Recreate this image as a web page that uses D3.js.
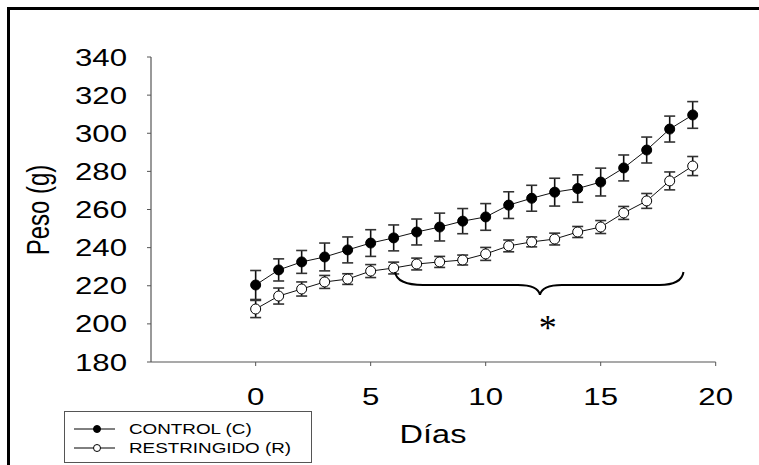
<!DOCTYPE html>
<html><head><meta charset="utf-8">
<script src="https://cdn.jsdelivr.net/npm/d3@7"></script>
<style>html,body{margin:0;padding:0;background:#fff;}svg{display:block;}</style>
</head><body>
<script>
const days = [0,1,2,3,4,5,6,7,8,9,10,11,12,13,14,15,16,17,18,19];
const controlMean = [220.4,228.3,232.5,235.1,238.8,242.4,245.1,248.2,250.8,253.9,256.1,262.3,265.9,269.1,271.0,274.4,281.8,291.2,302.2,309.6];
const controlSE   = [7.6,5.8,6.0,7.3,6.8,7.0,6.8,6.8,7.3,6.6,7.0,7.0,6.8,7.3,7.2,7.3,6.8,6.8,6.8,7.0];
const restrMean   = [207.8,214.6,218.3,222.0,223.5,227.7,229.3,231.4,232.5,233.5,236.7,240.9,243.0,244.5,248.2,250.8,258.2,264.5,275.0,282.8];
const restrSE     = [4.5,4.2,3.7,3.4,2.8,3.4,3.1,3.1,2.9,2.6,3.4,3.1,2.6,3.1,2.9,3.4,3.4,3.9,4.7,5.0];
const xTicks = [0,5,10,15,20];
const yTicks = [180,200,220,240,260,280,300,320,340];
const seriesNames = ["CONTROL (C)","RESTRINGIDO (R)"];
const braceDays = [6.06, 12.36, 18.6];
const braceVals = [227.2, 220.4, 215.2];
const starPos = [12.7, 201];

const W = 759, H = 465, SX = 1.3;
const svg = d3.select("body").append("svg").attr("width", W).attr("height", H);
const FONT = "'Liberation Sans', Arial, sans-serif";

// outer frame (cropped)
svg.append("path").attr("d", `M8.5,${H} V8.5 H${W}`).attr("fill","none").attr("stroke","#000").attr("stroke-width",3);

const x = d3.scaleLinear().domain([-4.55, 20]).range([151, 715.7]);
const y = d3.scaleLinear().domain([180, 340]).range([362, 57]);

function sText(g, tx, ty, str, size, anchor, sx) {
  return g.append("text").attr("transform", `translate(${tx},${ty}) scale(${sx||SX},1)`)
    .attr("text-anchor", anchor).attr("font-family", FONT).attr("font-size", size).attr("fill","#000").text(str);
}

// axes
const ax = svg.append("g");
ax.append("line").attr("x1", x.range()[0]).attr("x2", x(20)).attr("y1", y(180)).attr("y2", y(180)).attr("stroke","#555").attr("stroke-width",1.2);
ax.append("line").attr("x1", x.range()[0]).attr("x2", x.range()[0]).attr("y1", y(180)).attr("y2", y(340)).attr("stroke","#555").attr("stroke-width",1.2);
xTicks.forEach(t => {
  ax.append("line").attr("x1", x(t)).attr("x2", x(t)).attr("y1", y(180)).attr("y2", y(180)+4).attr("stroke","#555");
  sText(ax, x(t), 405, String(t), 24, "middle");
});
yTicks.forEach(t => {
  ax.append("line").attr("x1", x.range()[0]-4).attr("x2", x.range()[0]).attr("y1", y(t)).attr("y2", y(t)).attr("stroke","#555");
  sText(ax, 127, y(t)+8.5, String(t), 24, "end");
});
sText(ax, 433, 443, "Días", 25, "middle");
ax.append("text").attr("transform", `translate(49,210) rotate(-90) scale(1,${SX})`)
  .attr("text-anchor","middle").attr("font-family",FONT).attr("font-size",24).text("Peso (g)");

// series
const series = [
  {mean: controlMean, se: controlSE, fill: "#000"},
  {mean: restrMean, se: restrSE, fill: "#fff"}
];
series.forEach(s => {
  const g = svg.append("g");
  days.forEach((d,i) => {
    const x0 = x(d), yl = y(s.mean[i]-s.se[i]), yh = y(s.mean[i]+s.se[i]);
    g.append("line").attr("x1",x0).attr("x2",x0).attr("y1",yl).attr("y2",yh).attr("stroke","#111").attr("stroke-width",1.6);
    [yl,yh].forEach(yy => g.append("line").attr("x1",x0-5.5).attr("x2",x0+5.5).attr("y1",yy).attr("y2",yy).attr("stroke","#333").attr("stroke-width",1.6));
  });
});
series.forEach(s => {
  const g = svg.append("g");
  g.append("path").datum(days).attr("fill","none").attr("stroke","#111").attr("stroke-width",1)
    .attr("d", d3.line().x(d=>x(d)).y((d,i)=>y(s.mean[i])));
  g.selectAll("circle").data(days).join("circle").attr("cx",d=>x(d)).attr("cy",(d,i)=>y(s.mean[i]))
    .attr("r",5).attr("fill",s.fill).attr("stroke","#000").attr("stroke-width",1);
});

// brace
const xl = x(braceDays[0]), xm = x(braceDays[1]), xr = x(braceDays[2]);
const yt = y(braceVals[0]), yh = y(braceVals[1]), yp = y(braceVals[2]);
svg.append("path").attr("d",
  `M${xl},${yt} Q${xl+2},${yh} ${xl+28},${yh} L${xm-22},${yh} Q${xm-2},${yh} ${xm},${yp} Q${xm+2},${yh} ${xm+22},${yh} L${xr-24},${yh} Q${xr-2},${yh} ${xr},${yt}`)
  .attr("fill","none").attr("stroke","#000").attr("stroke-width",2);
svg.append("text").attr("x", x(starPos[0])).attr("y", y(starPos[1])+18).attr("text-anchor","middle")
  .attr("font-family","'Liberation Serif', 'Times New Roman', serif").attr("font-size",36).text("*");

// legend
const lg = svg.append("g");
lg.append("rect").attr("x",64.5).attr("y",411.5).attr("width",247).attr("height",51).attr("fill","#fff").attr("stroke","#555").attr("stroke-width",1);
seriesNames.forEach((n,i) => {
  const ly = 429 + i*19;
  lg.append("line").attr("x1",74).attr("x2",115).attr("y1",ly).attr("y2",ly).attr("stroke","#000").attr("stroke-width",1);
  lg.append("circle").attr("cx",97).attr("cy",ly).attr("r",3.5).attr("fill",series[i].fill).attr("stroke","#000").attr("stroke-width",1);
  sText(lg, 129, ly+5.2, n, 14.5, "start");
});
</script>
</body></html>
